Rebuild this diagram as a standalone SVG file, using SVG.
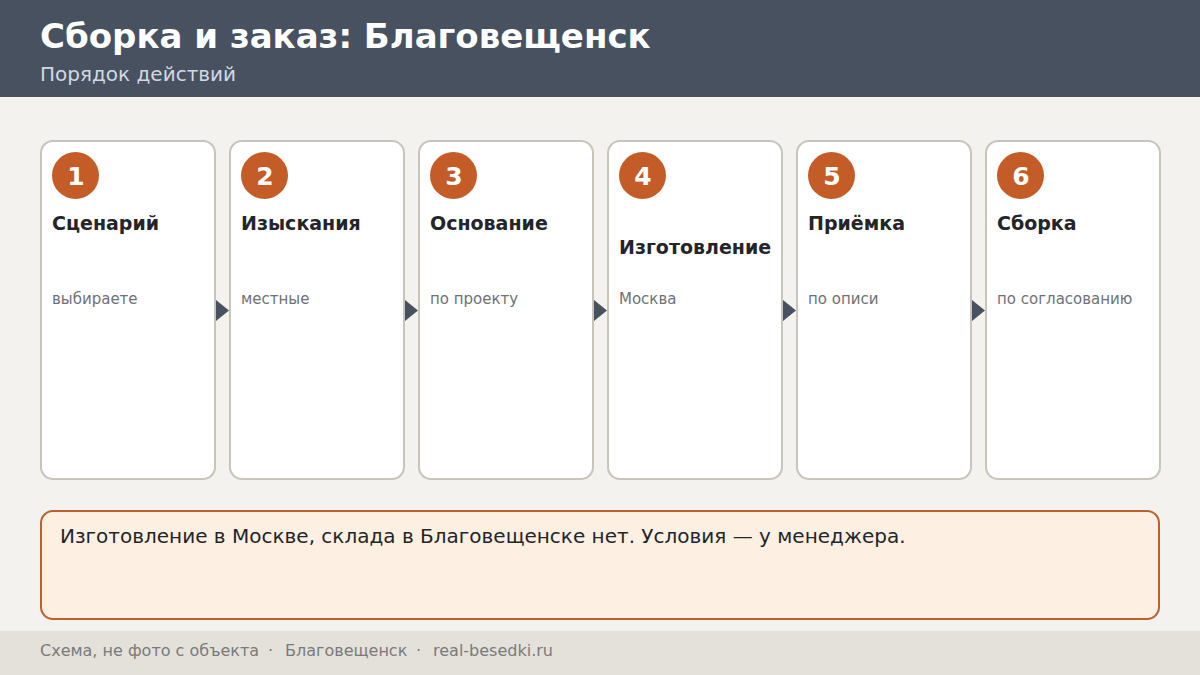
<svg xmlns="http://www.w3.org/2000/svg" width="1200" height="675" viewBox="0 0 1200 675">
<style>
.bg{fill:#f4f2ee}
.hdr{fill:#475160}
.t1{font-family:"DejaVu Sans",sans-serif;font-weight:bold;font-size:34px;fill:#ffffff}
.t2{font-family:"DejaVu Sans",sans-serif;font-size:20px;fill:#d3d9e2}
.card{fill:#ffffff;stroke:#c8c4bc;stroke-width:2}
.num{fill:#c45c28}
.numt{font-family:"DejaVu Sans",sans-serif;font-weight:bold;font-size:25px;fill:#ffffff;text-anchor:middle}
.ttl{font-family:"DejaVu Sans",sans-serif;font-weight:bold;font-size:19px;fill:#23252a}
.dsc{font-family:"DejaVu Sans",sans-serif;font-size:15px;fill:#6e7178}
.arr{fill:#475160}
.note{fill:#fdefe1;stroke:#b8622e;stroke-width:2}
.notet{font-family:"DejaVu Sans",sans-serif;font-size:20px;fill:#23252a}
.foot{fill:#e4e1db}
.foott{font-family:"DejaVu Sans",sans-serif;font-size:16px;fill:#7a7a7a}
</style>
<rect class="bg" x="0" y="0" width="1200" height="675"/>
<rect class="hdr" x="0" y="0" width="1200" height="97"/>
<text class="t1" x="40" y="48">Сборка и заказ: Благовещенск</text>
<text class="t2" x="40" y="81">Порядок действий</text>

<g id="connectors">
<polygon class="arr" points="216,300 229,310.5 216,321"/>
<polygon class="arr" points="405,300 418,310.5 405,321"/>
<polygon class="arr" points="594,300 607,310.5 594,321"/>
<polygon class="arr" points="783,300 796,310.5 783,321"/>
<polygon class="arr" points="972,300 985,310.5 972,321"/>
</g>

<g id="step1">
<rect class="card" x="41" y="141" width="174" height="338" rx="12"/>
<circle class="num" cx="75.5" cy="175.5" r="23.5"/>
<text class="numt" x="76" y="184.5">1</text>
<text class="ttl" x="52" y="230">Сценарий</text>
<text class="dsc" x="52" y="304">выбираете</text>
</g>
<g id="step2">
<rect class="card" x="230" y="141" width="174" height="338" rx="12"/>
<circle class="num" cx="264.5" cy="175.5" r="23.5"/>
<text class="numt" x="265" y="184.5">2</text>
<text class="ttl" x="241" y="230">Изыскания</text>
<text class="dsc" x="241" y="304">местные</text>
</g>
<g id="step3">
<rect class="card" x="419" y="141" width="174" height="338" rx="12"/>
<circle class="num" cx="453.5" cy="175.5" r="23.5"/>
<text class="numt" x="454" y="184.5">3</text>
<text class="ttl" x="430" y="230">Основание</text>
<text class="dsc" x="430" y="304">по проекту</text>
</g>
<g id="step4">
<rect class="card" x="608" y="141" width="174" height="338" rx="12"/>
<circle class="num" cx="642.5" cy="175.5" r="23.5"/>
<text class="numt" x="643" y="184.5">4</text>
<text class="ttl" x="619" y="254">Изготовление</text>
<text class="dsc" x="619" y="304">Москва</text>
</g>
<g id="step5">
<rect class="card" x="797" y="141" width="174" height="338" rx="12"/>
<circle class="num" cx="831.5" cy="175.5" r="23.5"/>
<text class="numt" x="832" y="184.5">5</text>
<text class="ttl" x="808" y="230">Приёмка</text>
<text class="dsc" x="808" y="304">по описи</text>
</g>
<g id="step6">
<rect class="card" x="986" y="141" width="174" height="338" rx="12"/>
<circle class="num" cx="1020.5" cy="175.5" r="23.5"/>
<text class="numt" x="1021" y="184.5">6</text>
<text class="ttl" x="997" y="230">Сборка</text>
<text class="dsc" x="997" y="304">по согласованию</text>
</g>

<g id="note">
<rect class="note" x="41" y="511" width="1118" height="108" rx="12"/>
<text class="notet" x="60" y="543">Изготовление в Москве, склада в Благовещенске нет. Условия — у менеджера.</text>
</g>

<rect class="foot" x="0" y="631" width="1200" height="44"/>
<text class="foott" y="656"><tspan x="40">Схема, не фото с объекта</tspan><tspan x="268">·</tspan><tspan x="285">Благовещенск</tspan><tspan x="416">·</tspan><tspan x="433">real-besedki.ru</tspan></text>
</svg>
